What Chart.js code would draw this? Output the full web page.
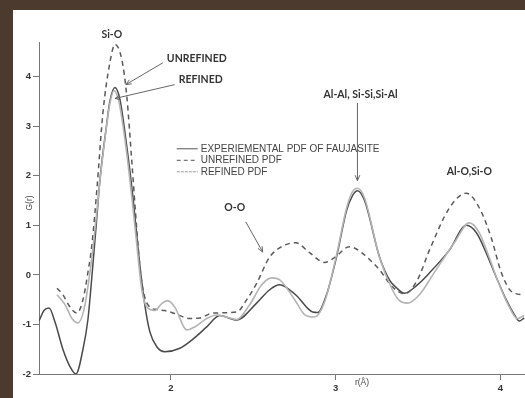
<!DOCTYPE html>
<html>
<head>
<meta charset="utf-8">
<script src="https://cdn.jsdelivr.net/npm/chart.js@4/dist/chart.umd.min.js"></script>
<style>
  html, body { margin: 0; padding: 0; background: #4b3a2d; }
  #wrap { position: relative; width: 525px; height: 398px; overflow: hidden; }
  #panel { position: absolute; left: 13px; top: 10px; width: 512px; height: 388px; background: #fff; }
  #ch { position: absolute; left: 0; top: 0; }
</style>
</head>
<body>
<div id="wrap">
  <div id="panel"></div>
  <canvas id="ch" width="525" height="398"></canvas>
</div>
<script>
// ============ 数据：r(Å) 与 G(r) ============
const expR = [1.200,1.230,1.261,1.297,1.345,1.388,1.424,1.467,1.497,1.527,1.552,1.570,1.612,1.630,1.661,1.691,1.733,1.770,1.800,1.812,1.842,1.873,1.915,1.964,2.055,2.133,2.218,2.297,2.400,2.521,2.600,2.661,2.721,2.764,2.861,2.891,2.945,3.006,3.067,3.103,3.133,3.176,3.267,3.327,3.370,3.418,3.497,3.570,3.691,3.794,3.855,3.915,3.976,4.036,4.085,4.115,4.145];
const expG = [-0.93,-0.72,-0.67,-0.95,-1.5,-1.85,-2.0,-1.5,-0.9,0.2,1.2,1.92,3.07,3.5,3.78,3.54,2.59,1.58,0.57,0.2,-0.6,-1.15,-1.45,-1.55,-1.48,-1.3,-1.05,-0.82,-0.91,-0.57,-0.3,-0.2,-0.3,-0.42,-0.75,-0.76,-0.4,0.36,1.3,1.6,1.7,1.5,0.36,-0.1,-0.26,-0.37,-0.2,0.04,0.5,1.0,0.85,0.44,-0.05,-0.5,-0.8,-0.93,-0.87];

const unrR = [1.309,1.345,1.388,1.430,1.467,1.497,1.521,1.552,1.588,1.630,1.661,1.703,1.733,1.764,1.794,1.818,1.842,1.873,1.915,1.964,2.024,2.115,2.176,2.255,2.400,2.461,2.521,2.600,2.679,2.758,2.842,2.933,2.994,3.085,3.158,3.267,3.345,3.418,3.497,3.570,3.691,3.794,3.873,3.945,4.006,4.073,4.145];
const unrG = [-0.27,-0.4,-0.65,-0.77,-0.5,0.05,0.6,1.75,3.27,4.28,4.65,4.34,3.6,2.26,0.9,0.0,-0.45,-0.65,-0.7,-0.72,-0.78,-0.88,-0.87,-0.77,-0.75,-0.5,-0.17,0.36,0.58,0.65,0.45,0.25,0.35,0.57,0.45,0.1,-0.24,-0.38,-0.1,0.5,1.35,1.65,1.35,0.75,0.05,-0.35,-0.4];

const refR = [1.309,1.358,1.400,1.436,1.473,1.503,1.533,1.570,1.612,1.630,1.655,1.685,1.727,1.764,1.794,1.824,1.855,1.903,1.945,1.982,2.024,2.097,2.145,2.218,2.279,2.345,2.400,2.479,2.552,2.612,2.661,2.752,2.812,2.873,2.933,3.006,3.067,3.103,3.133,3.176,3.267,3.345,3.388,3.436,3.509,3.600,3.721,3.812,3.873,3.933,3.994,4.055,4.103,4.145];
const refG = [-0.4,-0.6,-0.88,-0.97,-0.7,-0.1,0.7,1.9,3.05,3.45,3.72,3.5,2.6,1.55,0.6,-0.3,-0.65,-0.72,-0.58,-0.52,-0.65,-1.11,-1.05,-0.88,-0.81,-0.86,-0.9,-0.6,-0.2,-0.06,-0.1,-0.5,-0.8,-0.85,-0.55,0.4,1.35,1.68,1.75,1.55,0.35,-0.3,-0.52,-0.57,-0.4,0.05,0.65,1.05,0.85,0.35,-0.2,-0.65,-0.88,-0.82];

const xTicks = [2, 3, 4];
const yTicks = [-2, -1, 0, 1, 2, 3, 4];
const legendNames = ['EXPERIEMENTAL PDF OF FAUJASITE', 'UNREFINED PDF', 'REFINED PDF'];

// 峰标注（数据坐标）
const peakNotes = [
  { text: 'Si-O', x: 1.642, y: 4.85, align: 'center' },
  { text: 'UNREFINED', x: 1.976, y: 4.36, align: 'left' },
  { text: 'REFINED', x: 2.048, y: 3.94, align: 'left' },
  { text: 'Al-Al, Si-Si,Si-Al', x: 3.152, y: 3.64, align: 'center' },
  { text: 'Al-O,Si-O', x: 3.812, y: 2.08, align: 'center' },
  { text: 'O-O', x: 2.388, y: 1.35, align: 'center' },
];
const peakArrows = [
  { from: [1.952, 4.28], to: [1.727, 3.84] },
  { from: [2.024, 3.84], to: [1.661, 3.56] },
  { from: [3.133, 3.47], to: [3.133, 1.90] },
  { from: [2.455, 1.07], to: [2.558, 0.46] },
];

const pts = (rs, gs) => rs.map((r, i) => ({ x: r, y: gs[i] }));

// ============ 注释插件 ============
const notesPlugin = {
  id: 'notes',
  afterDraw(chart) {
    const { ctx, scales: { x, y } } = chart;
    ctx.save();

    // 轴标题
    ctx.fillStyle = '#444';
    ctx.font = '8.5px "Liberation Sans", Arial, sans-serif';
    ctx.textAlign = 'center';
    ctx.textBaseline = 'middle';
    ctx.fillText('r(Å)', 362, 383);
    ctx.save();
    ctx.translate(30, 203);
    ctx.rotate(-Math.PI / 2);
    ctx.fillText('G(r)', 0, 0);
    ctx.restore();

    // 峰标注文字
    ctx.fillStyle = '#333';
    ctx.font = 'bold 10.5px Lato, "Open Sans", sans-serif';
    peakNotes.forEach(n => {
      ctx.textAlign = n.align;
      ctx.fillText(n.text, x.getPixelForValue(n.x), y.getPixelForValue(n.y));
    });

    // 箭头
    ctx.strokeStyle = '#666';
    ctx.lineWidth = 1;
    peakArrows.forEach(a => {
      const x1 = x.getPixelForValue(a.from[0]), y1 = y.getPixelForValue(a.from[1]);
      const x2 = x.getPixelForValue(a.to[0]), y2 = y.getPixelForValue(a.to[1]);
      const ang = Math.atan2(y2 - y1, x2 - x1);
      ctx.beginPath();
      ctx.moveTo(x1, y1); ctx.lineTo(x2, y2);
      ctx.moveTo(x2 - 6 * Math.cos(ang - 0.4), y2 - 6 * Math.sin(ang - 0.4));
      ctx.lineTo(x2, y2);
      ctx.lineTo(x2 - 6 * Math.cos(ang + 0.4), y2 - 6 * Math.sin(ang + 0.4));
      ctx.stroke();
    });

    // 图例
    const lx = x.getPixelForValue(2.036), ly = y.getPixelForValue(2.545);
    const styles = [
      { dash: [], color: '#555' },
      { dash: [4, 3], color: '#555' },
      { dash: [3, 1], color: '#999' },
    ];
    ctx.font = '10px "Liberation Sans", Arial, sans-serif';
    ctx.textAlign = 'left';
    legendNames.forEach((name, i) => {
      const yy = ly + i * 11.5;
      ctx.setLineDash(styles[i].dash);
      ctx.strokeStyle = styles[i].color;
      ctx.beginPath();
      ctx.moveTo(lx, yy); ctx.lineTo(lx + 21, yy);
      ctx.stroke();
      ctx.setLineDash([]);
      ctx.fillStyle = '#444';
      ctx.fillText(name, lx + 24, yy);
    });

    ctx.restore();
  }
};

new Chart(document.getElementById('ch'), {
  type: 'line',
  data: {
    datasets: [
      { label: legendNames[2], data: pts(refR, refG), borderColor: '#b4b4b4', borderWidth: 1.6 },
      { label: legendNames[1], data: pts(unrR, unrG), borderColor: '#5a5a5a', borderWidth: 1.5, borderDash: [5, 4] },
      { label: legendNames[0], data: pts(expR, expG), borderColor: '#4a4a4a', borderWidth: 1.5 },
    ]
  },
  options: {
    responsive: false,
    animation: false,
    parsing: false,
    layout: { padding: { top: 42, left: 0, right: 0, bottom: 0 } },
    elements: {
      point: { radius: 0 },
      line: { cubicInterpolationMode: 'monotone', fill: false }
    },
    plugins: { legend: { display: false }, tooltip: { enabled: false } },
    scales: {
      x: {
        type: 'linear', min: 1.2, max: 4.15,
        afterBuildTicks: s => { s.ticks = xTicks.map(v => ({ value: v })); },
        afterFit: s => { s.height = 24; },
        grid: { drawOnChartArea: false, drawTicks: true, tickLength: 6, color: '#777' },
        border: { display: true, color: '#777', width: 1 },
        ticks: { color: '#333', padding: 3, font: { size: 9.5, weight: 'bold', family: '"Liberation Sans", Arial, sans-serif' } }
      },
      y: {
        type: 'linear', min: -2, max: 4.7,
        afterBuildTicks: s => { s.ticks = yTicks.map(v => ({ value: v })); },
        afterFit: s => { s.width = 39; },
        grid: { drawOnChartArea: false, drawTicks: true, tickLength: 6, color: '#777' },
        border: { display: true, color: '#777', width: 1 },
        ticks: { color: '#333', padding: 2, font: { size: 9.5, weight: 'bold', family: '"Liberation Sans", Arial, sans-serif' } }
      }
    }
  },
  plugins: [notesPlugin]
});
</script>
</body>
</html>
